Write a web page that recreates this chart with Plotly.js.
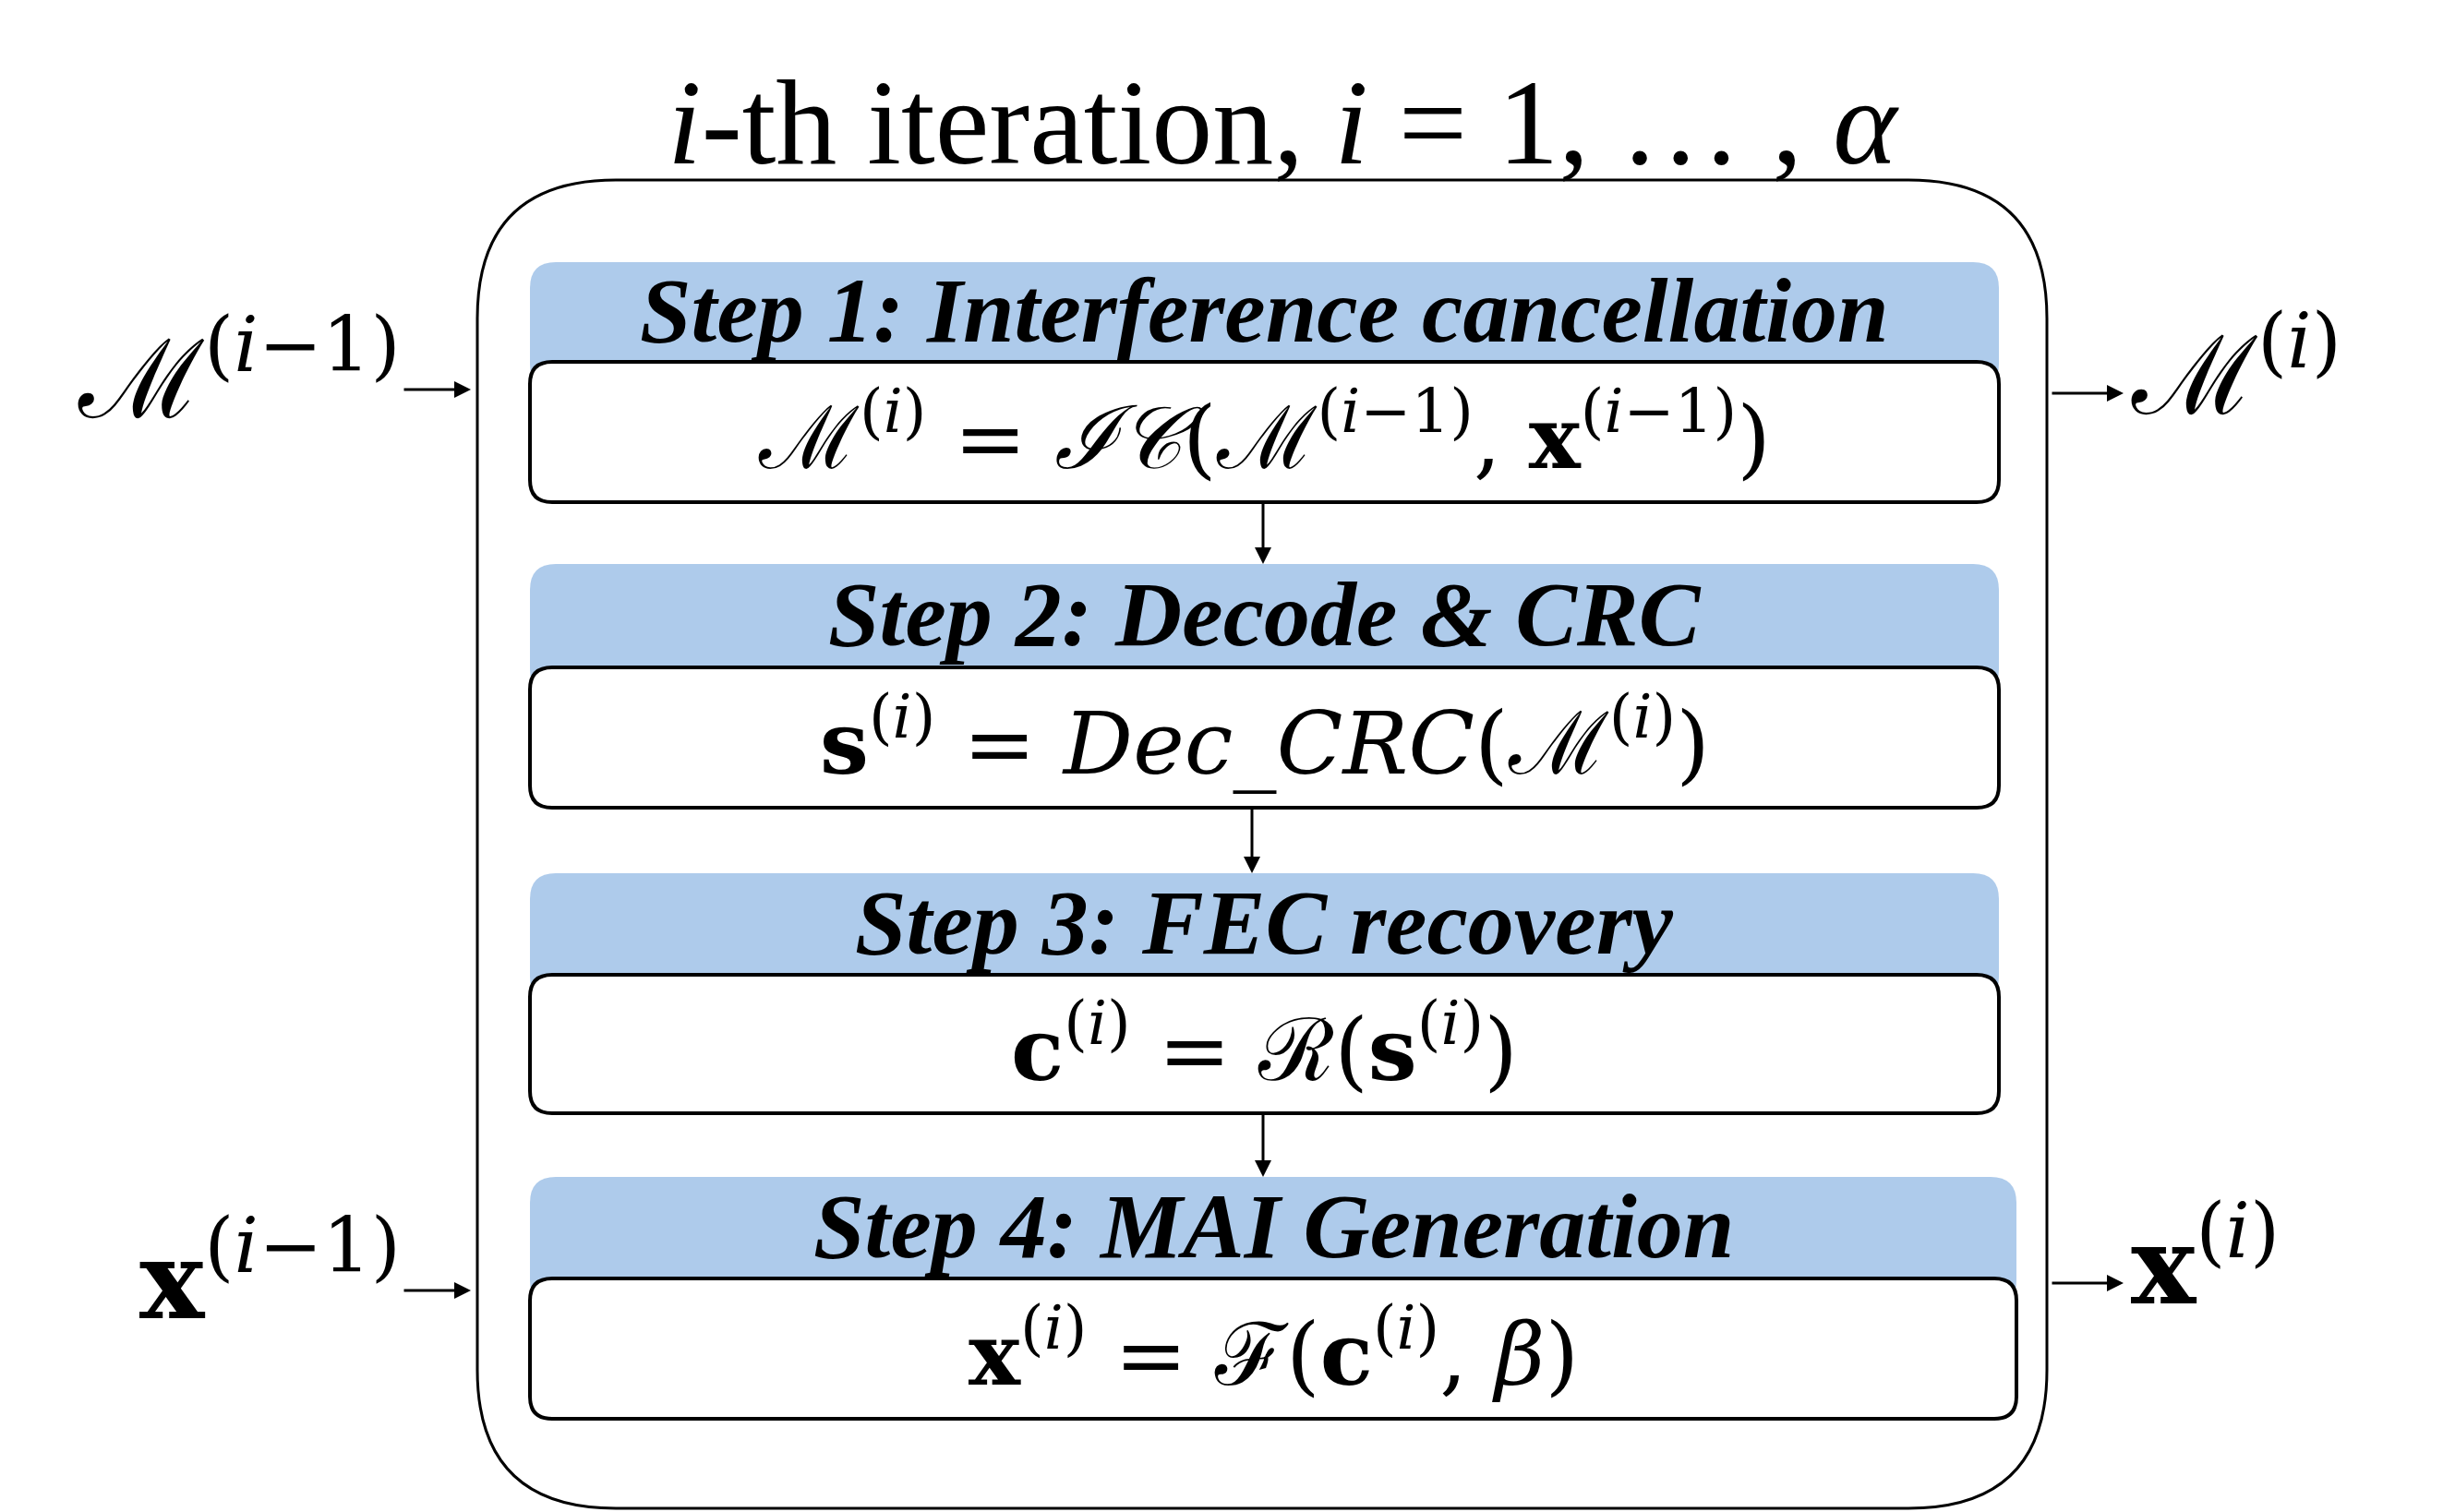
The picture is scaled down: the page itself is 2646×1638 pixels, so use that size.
<!DOCTYPE html>
<html>
<head>
<meta charset="utf-8">
<script src="https://cdn.plot.ly/plotly-3.0.1.min.js"></script>
<style>html,body{margin:0;padding:0;background:#fff}</style>
</head>
<body>
<div id="chart" style="width:2646px;height:1638px"></div>
<script>
// === Diagram content === //
var titleText = '<i>i</i>-th iteration, <i>i</i> = 1, … , <i>α</i>';
var stepTitles = ['Step 1: Interference cancellation', 'Step 2: Decode &amp; CRC', 'Step 3: FEC recovery', 'Step 4: MAI Generation'];
var stepFormulas = [
    'ℳ<sup>(<i>i</i>)</sup> = <i>ℐ𝒞</i>(ℳ<sup>(<i>i</i>−1)</sup>, <b>x</b><sup>(<i>i</i>−1)</sup>)',
    '<b>s</b><sup>(<i>i</i>)</sup> = <i>Dec_CRC</i>(ℳ<sup>(<i>i</i>)</sup>)',
    '<b>c</b><sup>(<i>i</i>)</sup> = ℛ(<b>s</b><sup>(<i>i</i>)</sup>)',
    '<b>x</b><sup>(<i>i</i>)</sup> = ℱ(<b>c</b><sup>(<i>i</i>)</sup>, <i>β</i>)'
];
var inputLabels = ['ℳ<sup>(<i>i</i>−1)</sup>', '<b>x</b><sup>(<i>i</i>−1)</sup>'];
var outputLabels = ['ℳ<sup>(<i>i</i>)</sup>', '<b>x</b><sup>(<i>i</i>)</sup>'];

// === Layout geometry === //
var headerTop = [284, 611, 946, 1275];
var boxTop = [392, 723, 1056, 1385];
var boxBottom = [544, 875, 1206, 1537];
var boxRight = [2165, 2165, 2165, 2184];
var boxLeft = 574;

function roundRect(x0, y0, x1, y1, r){
    return 'M' + (x0 + r) + ',' + y0 + ' L' + (x1 - r) + ',' + y0 +
        ' Q' + x1 + ',' + y0 + ' ' + x1 + ',' + (y0 + r) +
        ' L' + x1 + ',' + (y1 - r) + ' Q' + x1 + ',' + y1 + ' ' + (x1 - r) + ',' + y1 +
        ' L' + (x0 + r) + ',' + y1 + ' Q' + x0 + ',' + y1 + ' ' + x0 + ',' + (y1 - r) +
        ' L' + x0 + ',' + (y0 + r) + ' Q' + x0 + ',' + y0 + ' ' + (x0 + r) + ',' + y0 + ' Z';
}

var shapes = [];
var annotations = [];

// outer box
shapes.push({type:'path', path: roundRect(517, 195, 2217, 1634, 150), line:{color:'#000', width:3}, fillcolor:'rgba(0,0,0,0)'});

var serif = 'Liberation Serif, Times New Roman, serif';
var mathFont = 'DejaVu Serif, Liberation Serif, serif';

stepTitles.forEach(function(t, k){
    shapes.push({type:'path', path: roundRect(boxLeft, headerTop[k], boxRight[k], boxTop[k] + 30, 28), line:{width:0}, fillcolor:'#aecbeb'});
    shapes.push({type:'path', path: roundRect(boxLeft, boxTop[k], boxRight[k], boxBottom[k], 24), line:{color:'#000', width:4}, fillcolor:'#fff'});
    annotations.push({x:(boxLeft + boxRight[k]) / 2, y:(headerTop[k] + boxTop[k]) / 2 - 2, xref:'x', yref:'y', text:'<b><i>' + t + '</i></b>', showarrow:false, font:{family:serif, size:100, color:'#000'}});
    annotations.push({x:(boxLeft + boxRight[k]) / 2, y:(boxTop[k] + boxBottom[k]) / 2, xref:'x', yref:'y', text:stepFormulas[k], showarrow:false, font:{family:mathFont, size:94, color:'#000'}});
    // arrows between steps
    if(k < stepTitles.length - 1){
        var ax = [1368, 1356, 1368][k];
        annotations.push({x:ax, y:headerTop[k + 1], ax:ax, ay:boxBottom[k], xref:'x', yref:'y', axref:'x', ayref:'y', text:'', showarrow:true, arrowhead:2, arrowsize:1.2, arrowwidth:3, arrowcolor:'#000'});
    }
});

// title
annotations.push({x:1390, y:132, xref:'x', yref:'y', text:titleText, showarrow:false, font:{family:serif, size:132, color:'#000'}});

// inputs / outputs
var ioY = [422, 1398];
inputLabels.forEach(function(t, k){
    annotations.push({x:436, xanchor:'right', y:ioY[k] - 20, xref:'x', yref:'y', text:t, showarrow:false, font:{family:mathFont, size:118, color:'#000'}});
    annotations.push({x:510, y:ioY[k], ax:436, ay:ioY[k], xref:'x', yref:'y', axref:'x', ayref:'y', text:'', showarrow:true, arrowhead:2, arrowsize:1.2, arrowwidth:3, arrowcolor:'#000'});
});
var outY = [426, 1390];
outputLabels.forEach(function(t, k){
    annotations.push({x:2306, xanchor:'left', y:outY[k] - 28, xref:'x', yref:'y', text:t, showarrow:false, font:{family:mathFont, size:118, color:'#000'}});
    annotations.push({x:2300, y:outY[k], ax:2221, ay:outY[k], xref:'x', yref:'y', axref:'x', ayref:'y', text:'', showarrow:true, arrowhead:2, arrowsize:1.2, arrowwidth:3, arrowcolor:'#000'});
});

var layout = {
    width:2646, height:1638,
    margin:{l:0, r:0, t:0, b:0},
    paper_bgcolor:'#fff', plot_bgcolor:'#fff',
    xaxis:{range:[0, 2646], visible:false, fixedrange:true},
    yaxis:{range:[1638, 0], visible:false, fixedrange:true},
    shapes:shapes,
    annotations:annotations,
    showlegend:false
};

Plotly.newPlot('chart', [{x:[], y:[], type:'scatter'}], layout, {staticPlot:true});
</script>
</body>
</html>
